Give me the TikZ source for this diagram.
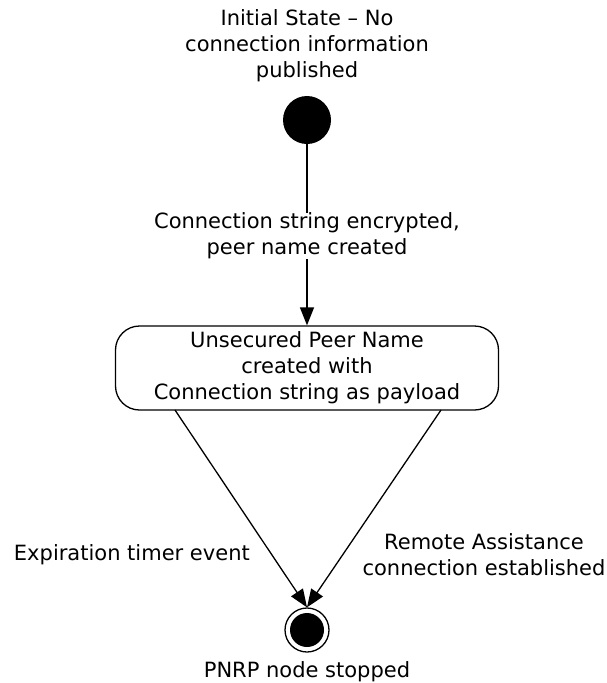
\documentclass[tikz,border=0pt]{standalone}
\usepackage{fontspec}
\setmainfont{DejaVu Sans}
\usetikzlibrary{arrows.meta}
\begin{document}
\begin{tikzpicture}[x=1pt,y=-1pt,
  lbl/.style={font=\fontsize{21}{26}\selectfont, align=center, inner sep=0pt},
  conn/.style={draw, line width=1.3pt, -{Triangle[length=18pt,width=14pt]}},
  plain/.style={draw, line width=1.3pt}]
\useasboundingbox (0,0) rectangle (607,683);
\node[circle, fill=black, minimum size=48pt, inner sep=0pt] (init) at (307,120) {};
\node[lbl] (initlbl) at (307,46) {Initial State – No\\connection information\\published};
\node[lbl, fill=white] (e1) at (307,236) {Connection string encrypted,\\peer name created};
\node[draw, line width=1.3pt, rounded corners=24pt, minimum width=383pt, minimum height=84pt, lbl] (box) at (307,368) {Unsecured Peer Name\\created with\\Connection string as payload};
\node[circle, draw, line width=1.3pt, minimum size=44pt, inner sep=0pt] (final) at (307,630) {};
\node[circle, fill=black, minimum size=34pt, inner sep=0pt] (finalin) at (307,630) {};
\node[lbl] (finlbl) at (307,672) {PNRP node stopped};
\coordinate (bl) at (175,410);
\coordinate (br) at (441,410);
\node[lbl, anchor=east] (e2) at (250,555) {Expiration timer event};
\node[lbl] (e3) at (484,555) {Remote Assistance\\connection established};
\draw[plain] (init.south) -- (e1.north);
\draw[conn] (e1.south) -- (box.north);
\draw[conn] (bl) -- (final.north);
\draw[conn] (br) -- (final.north);
\end{tikzpicture}
\end{document}
